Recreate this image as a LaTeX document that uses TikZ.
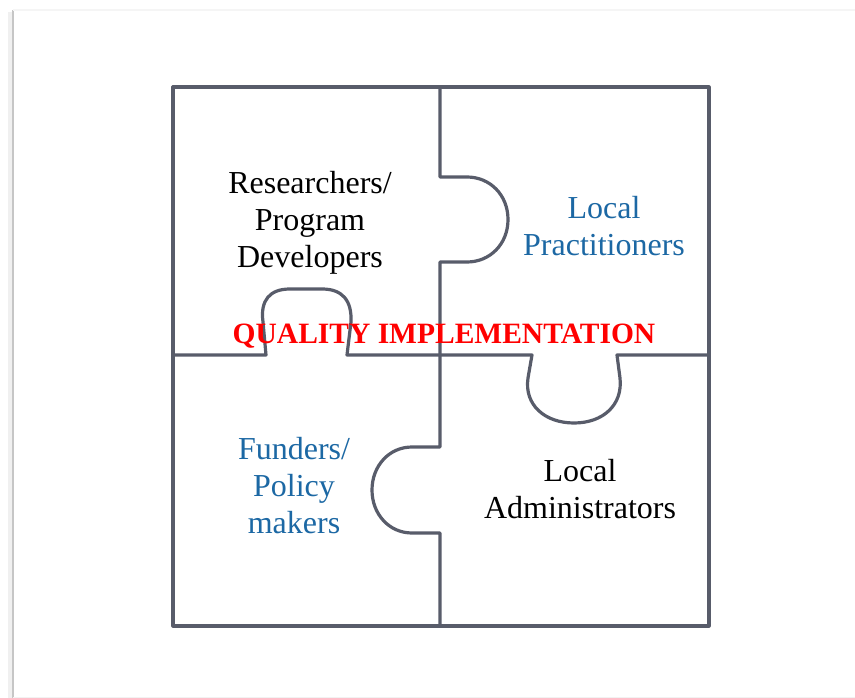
\documentclass[tikz,border=0pt]{standalone}
\usepackage{fontspec}
\setmainfont{Liberation Serif}
\begin{document}
\begin{tikzpicture}[x=1pt,y=-1pt,
  piece/.style={line width=3.2pt, draw={rgb,255:red,88;green,92;blue,106}, line join=round},
  label/.style={font=\fontsize{32}{37}\selectfont, align=center, anchor=base, inner sep=0pt},
  blue text/.style={text={rgb,255:red,28;green,104;blue,164}}]
  % canvas
  \useasboundingbox (0,0) rectangle (855,698);
  \fill[white] (0,0) rectangle (855,698);
  % sheet edges
  \draw[line width=4pt, gray!12] (10,12) -- (10,698);
  \draw[line width=2.2pt, gray!45] (13,10) -- (13,698);
  \draw[line width=1.2pt, gray!8] (13,10) -- (855,10);
  \draw[line width=1pt, gray!10] (13,697) -- (855,697);

  % outer frame of the puzzle
  \draw[piece] (173,87) rectangle (709,626);
  % upper vertical seam, tab to the right
  \draw[piece] (440,87) -- (440,177) -- (467,177)
     .. controls (490,177) and (508,195) .. (508,219.5)
     .. controls (508,244) and (490,262) .. (467,262)
     -- (440,262) -- (440,355);
  % lower vertical seam, tab to the left
  \draw[piece] (440,355) -- (440,447) -- (412,447)
     .. controls (389,447) and (372,466) .. (372,490)
     .. controls (372,514) and (389,533) .. (412,533)
     -- (440,533) -- (440,626);
  % left horizontal seam, tab upward
  \draw[piece] (173,355) -- (266,355) -- (263,322)
     .. controls (260,300) and (270,289) .. (290,289)
     -- (322,289)
     .. controls (342,289) and (352,300) .. (351,322)
     -- (347,355) -- (440,355);
  % right horizontal seam, tab downward
  \draw[piece] (440,355) -- (532,355) -- (528,378)
     .. controls (524,405) and (545,423) .. (574,423)
     .. controls (603,423) and (623,405) .. (620,378)
     -- (617,355) -- (709,355);

  % labels (anchored at the baseline of their last line)
  \node[label] (res) at (310,267) {Researchers/\\Program\\Developers};
  \node[label, blue text] (prac) at (604,255) {Local\\Practitioners};
  \node[label, blue text] (fund) at (294,533) {Funders/\\Policy\\makers};
  \node[label] (adm) at (580,518) {Local\\Administrators};
  \node[font=\fontsize{29.5}{35}\bfseries, text={rgb,255:red,255;green,0;blue,0}, anchor=base, inner sep=0pt] (qi) at (444,343) {QUALITY IMPLEMENTATION};
\end{tikzpicture}
\end{document}
